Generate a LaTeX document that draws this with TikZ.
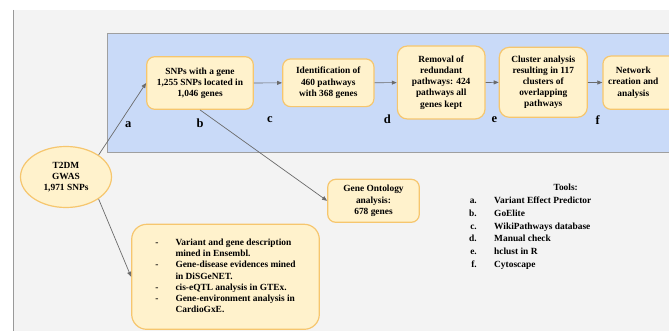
\documentclass[tikz,border=0pt]{standalone}
\usepackage{fontspec}
\setmainfont{Liberation Serif}
\usetikzlibrary{arrows.meta,shapes.geometric}
\definecolor{boxfill}{HTML}{FFF2CC}
\definecolor{boxline}{HTML}{F6C66E}
\definecolor{panel}{HTML}{C9DAF8}
\definecolor{pagebg}{HTML}{F3F3F3}
\definecolor{arrowgray}{HTML}{6B6B6B}

\begin{document}
\begin{tikzpicture}[x=1pt,y=-1pt,
    font=\fontsize{9.4}{11.2}\selectfont\bfseries,
    stepbox/.style={draw=boxline,fill=boxfill,line width=1.2pt,rounded corners=8pt,align=center,inner sep=0pt},
    flow/.style={draw=arrowgray,line width=0.7pt,-{Triangle[length=5pt,width=4pt]}},
    steplabel/.style={font=\fontsize{12.5}{14}\selectfont\bfseries,inner sep=0pt}]
    \useasboundingbox (0,0) rectangle (669,331);
    \clip (0,0) rectangle (669,331);
    \fill[white] (0,0) rectangle (669,331);
    \fill[pagebg] (13,10) rectangle (669,331);
    \draw[gray!80,line width=1pt] (13,10) -- (13,331);
    \draw[draw=gray!75,fill=panel,line width=1pt] (107.5,34) rectangle (690,152.5);

    \node (gwas) [ellipse,draw=boxline,fill=boxfill,line width=1.2pt,
        minimum width=91,minimum height=61,inner sep=0pt,align=center]
        at (66,177) {T2DM\\GWAS\\1,971 SNPs};
    \node (snp) [stepbox,minimum width=106.6,minimum height=52.6] at (200,83)
        {SNPs with a gene\\1,255 SNPs located in\\1,046 genes};
    \node (ident) [stepbox,minimum width=91.3,minimum height=47.7] at (328.3,82.8)
        {Identification of\\460 pathways\\with 368 genes};
    \node (removal) [stepbox,minimum width=87.7,minimum height=73,rounded corners=10pt] at (441.2,82.5)
        {Removal of\\redundant\\pathways: 424\\pathways all\\genes kept};
    \node (cluster) [stepbox,minimum width=88,minimum height=70,rounded corners=10pt] at (543.3,82.3)
        {Cluster analysis\\resulting in 117\\clusters of\\overlapping\\pathways};
    \node (network) [stepbox,anchor=west,minimum width=80,minimum height=53.3] at (602.3,82.7) {};
    \node (nettext) [align=center] at (633.3,82.7) {Network\\creation and\\analysis};
    \node (ontology) [stepbox,minimum width=91.6,minimum height=43] at (373.5,200.8)
        {Gene Ontology\\analysis:\\678 genes};
    \node (mining) [stepbox,minimum width=187.6,minimum height=105,rounded corners=15pt] at (225.5,276.8)
        {\begin{tabular}{@{}l@{\hspace{17pt}}l@{}}
            - & Variant and gene description\\
              & mined in Ensembl.\\
            - & Gene-disease evidences mined\\
              & in DiSGeNET.\\
            - & cis-eQTL analysis in GTEx.\\
            - & Gene-environment analysis in\\
              & CardioGxE.
        \end{tabular}};

    \draw[flow] (gwas.north east) -- (snp.west);
    \draw[flow] (gwas.south east) -- (mining.west);
    \draw[flow] (snp.south) -- (ontology.west);
    \draw[flow] (snp) -- (ident);
    \draw[flow] (ident) -- (removal);
    \draw[flow] (removal) -- (cluster);
    \draw[flow] (cluster) -- (network);

    \foreach \t/\x/\y in {a/128.3/124.3,b/200/123.5,c/270/119.3,d/387.3/119.3,e/494.3/120,f/597.7/120}
        \node (mark\t) [steplabel] at (\x,\y) {\t};

    \node (tools) [anchor=base] at (565.7,190) {Tools:};
    \foreach \l/\t [count=\n] in {a./Variant Effect Predictor,b./GoElite,c./WikiPathways database,
        d./Manual check,e./hclust in R,f./Cytoscape}
    {
        \node (key\n) [anchor=base east,inner sep=0pt] at (477,191.4+12.6*\n) {\l};
        \node (tool\n) [anchor=base west,inner sep=0pt] at (494,191.4+12.6*\n) {\t};
    }
\end{tikzpicture}
\end{document}
